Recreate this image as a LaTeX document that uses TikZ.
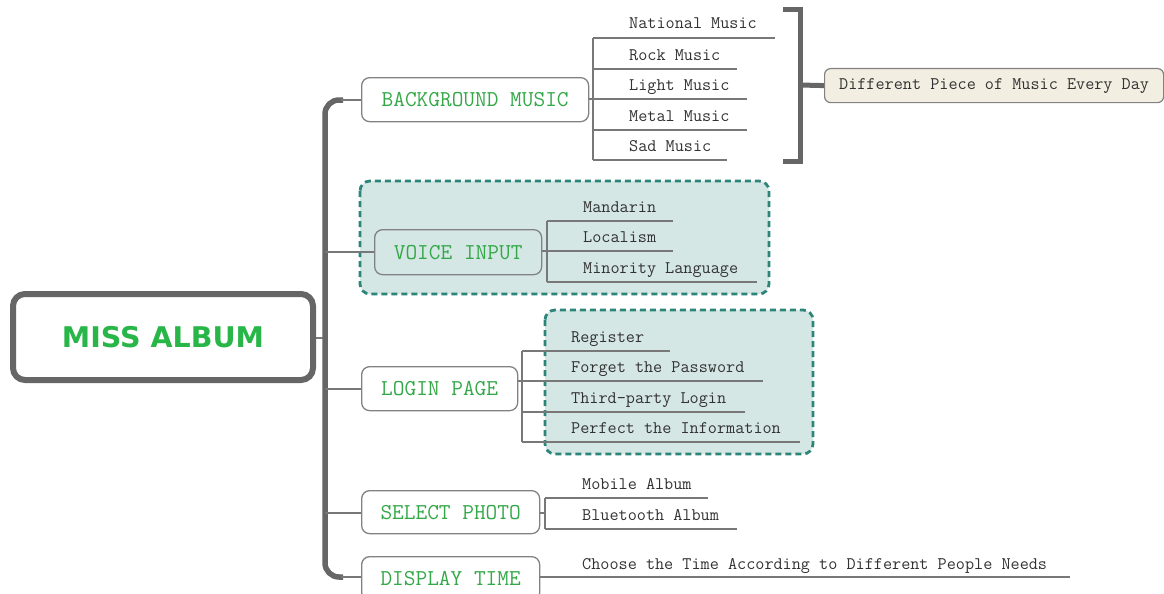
\documentclass[tikz,border=0pt]{standalone}
\usepackage{fontspec}
\newfontfamily\rootfont{DejaVu Sans}
\definecolor{topicgreen}{RGB}{52,168,72}
\definecolor{rootgreen}{RGB}{40,182,72}
\definecolor{spinegray}{RGB}{102,102,102}
\definecolor{twiggray}{RGB}{120,120,120}
\definecolor{boxgray}{RGB}{130,130,130}
\definecolor{leaftext}{RGB}{50,50,50}
\definecolor{groupfill}{RGB}{213,231,229}
\definecolor{groupline}{RGB}{45,132,120}
\definecolor{notefill}{RGB}{243,238,226}
\tikzset{
  rootbox/.style={draw=spinegray, line width=6pt, rounded corners=12pt, fill=white,
    minimum width=300pt, minimum height=86pt, inner sep=0pt,
    font=\rootfont\bfseries\fontsize{28.5}{30}\selectfont, text=rootgreen},
  topic/.style={draw=boxgray, line width=1.3pt, rounded corners=8pt, inner sep=0pt,
    font=\ttfamily\fontsize{22.7}{24}\selectfont, text=topicgreen, anchor=north west},
  leaf/.style={font=\ttfamily\fontsize{17.7}{19}\selectfont, text=leaftext,
    inner sep=0pt, anchor=base west},
  note/.style={draw=boxgray, line width=1.2pt, rounded corners=6pt, fill=notefill,
    inner sep=0pt, minimum width=339pt, minimum height=34pt, anchor=north west,
    font=\ttfamily\fontsize{17.7}{19}\selectfont, text=leaftext},
  twig/.style={draw=twiggray, line width=1.4pt},
  spine/.style={draw=spinegray, line width=5.5pt, rounded corners=14pt},
  bracket/.style={draw=spinegray, line width=5pt},
  group/.style={draw=groupline, fill=groupfill, line width=2.8pt,
    dash pattern=on 6pt off 4pt, rounded corners=10pt},
}
\begin{document}
\begin{tikzpicture}[x=1pt,y=-1pt]
\useasboundingbox (0,0) rectangle (1164,594);

% dashed group backgrounds
\draw[group] (360,181) rectangle (769,294);
\draw[group] (545,310) rectangle (813,454);

% central topic and main topics
\node[rootbox] (root) at (163,337) {MISS ALBUM};
\node[topic, minimum width=227pt, minimum height=44pt] (bgm) at (361,77) {BACKGROUND MUSIC};
\node[topic, minimum width=167pt, minimum height=45pt] (voice) at (374,229) {VOICE INPUT};
\node[topic, minimum width=156pt, minimum height=44pt] (login) at (361,366) {LOGIN PAGE};
\node[topic, minimum width=178pt, minimum height=43pt] (photo) at (361,490) {SELECT PHOTO};
\node[topic, minimum width=178pt, minimum height=44pt] (dtime) at (361,556) {DISPLAY TIME};

% spine joining the main topics
\coordinate (sp-root) at (325,338);
\draw[twig] (root.east |- sp-root) -- (sp-root);
\draw[spine] (343,100) -- (325,100) -- (325,577) -- (343,577);
\draw[twig] (341,100) -- (bgm.west |- 0,100);
\draw[twig] (325,252) -- (voice.west |- 0,252);
\draw[twig] (325,389) -- (login.west |- 0,389);
\draw[twig] (325,513) -- (photo.west |- 0,513);
\draw[twig] (341,577) -- (dtime.west |- 0,577);

% background music subtopics
\draw[twig] (bgm.east |- 0,99) -- (593,99);
\draw[twig] (593,38) -- (593,160);
\foreach \name/\txt/\y/\e in {nat/National Music/38/775, rock/Rock Music/69/737,
    light/Light Music/99/747, metal/Metal Music/130/747, sad/Sad Music/160/727}{
  \node[leaf] (\name) at (629,\y-9) {\txt};
  \draw[twig] (593,\y) -- (\e,\y);
}
\draw[bracket] (783,10) -- (800,10) -- (800,161) -- (783,161);
\node[note] (every) at (824,68) {Different Piece of Music Every Day};
\draw[bracket] (800,85) -- (every.west);

% voice input subtopics
\draw[twig] (voice.east |- 0,251) -- (547,251);
\draw[twig] (547,221) -- (547,282);
\foreach \name/\txt/\y/\e in {mand/Mandarin/221/673, local/Localism/251/673,
    minor/Minority Language/282/757}{
  \node[leaf] (\name) at (583,\y-9) {\txt};
  \draw[twig] (547,\y) -- (\e,\y);
}

% login page subtopics
\draw[twig] (login.east |- 0,381) -- (522,381);
\draw[twig] (522,351) -- (522,442);
\foreach \name/\txt/\y/\e in {reg/Register/351/670, forget/Forget the Password/381/763,
    third/Third-party Login/412/745, perfect/Perfect the Information/442/800}{
  \node[leaf] (\name) at (571,\y-9) {\txt};
  \draw[twig] (522,\y) -- (\e,\y);
}

% select photo subtopics
\draw[twig] (photo.east |- 0,513) -- (545,513);
\draw[twig] (545,498) -- (545,529);
\foreach \name/\txt/\y/\e in {mobile/Mobile Album/498/708, blue/Bluetooth Album/529/737}{
  \node[leaf] (\name) at (582,\y-9) {\txt};
  \draw[twig] (545,\y) -- (\e,\y);
}

% display time subtopic
\node[leaf] (choose) at (582,569) {Choose the Time According to Different People Needs};
\draw[twig] (dtime.east |- 0,577) -- (1070,577);
\end{tikzpicture}
\end{document}
